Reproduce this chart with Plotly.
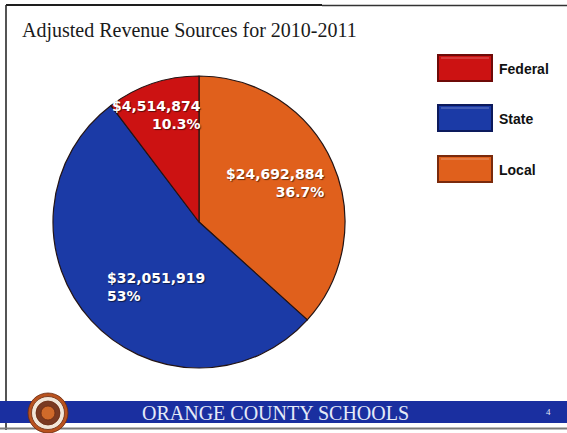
import plotly.graph_objects as go

# Revenue sources, 2010-2011
sources = ["Federal", "State", "Local"]
amounts = ["$4,514,874", "$32,051,919", "$24,692,884"]
shares = [10.3, 53.0, 36.7]          # percent of adjusted revenue
share_labels = ["10.3%", "53%", "36.7%"]
colors = ["#cc1212", "#1b3aa6", "#e0601c"]
edge_colors = ["#6e0a08", "#0c1a5c", "#7a2a0c"]

W, H = 567, 433


def px(x):
    return x / W


def py(y):
    return 1 - y / H


fig = go.Figure()

# Slices run clockwise from 12 o'clock: Local, State, Federal
fig.add_trace(go.Pie(
    labels=sources[::-1],
    values=shares[::-1],
    textinfo="none",
    sort=False,
    direction="clockwise",
    rotation=0,
    marker=dict(colors=colors[::-1], line=dict(color="#241414", width=1.2)),
    hoverinfo="label+value+percent",
    showlegend=False,
    domain=dict(x=[px(199 - 146), px(199 + 146)],
                y=[py(222 + 146), py(222 - 146)]),
))

shapes = []
annotations = []

# Slice labels: amount over share, anchored inside each slice
label_spots = [  # (x, y, anchor) in pixels
    (203, 115, "right"),
    (105, 287, "left"),
    (327, 183, "right"),
]
for amt, pct, (lx, ly, anc) in zip(amounts, share_labels, label_spots):
    annotations.append(dict(xref="paper", yref="paper", x=px(lx), y=py(ly),
                            xanchor=anc, yanchor="middle", align=anc,
                            showarrow=False, text=f"{amt}<br>{pct}",
                            font=dict(family="DejaVu Sans", size=14, color="white",
                                      weight="bold",
                                      shadow="1px 1px 1px rgba(0,0,0,0.55)")))

# Slide frame
shapes.append(dict(type="line", xref="paper", yref="paper",
                   x0=px(6), x1=px(322), y0=py(5), y1=py(5),
                   line=dict(color="#1e1e1e", width=2.2)))
shapes.append(dict(type="line", xref="paper", yref="paper",
                   x0=px(322), x1=px(567), y0=py(5.5), y1=py(5.5),
                   line=dict(color="#333333", width=1.6)))
shapes.append(dict(type="line", xref="paper", yref="paper",
                   x0=px(6), x1=px(6), y0=py(5), y1=py(430),
                   line=dict(color="#2a2a2a", width=1.6)))

# Legend keys drawn as bevelled boxes
key_tops = [55, 105, 156]
for name, col, edge, top in zip(sources, colors, edge_colors, key_tops):
    shapes.append(dict(type="rect", xref="paper", yref="paper",
                       x0=px(438), x1=px(492), y0=py(top), y1=py(top + 26),
                       fillcolor=col, line=dict(color=edge, width=2)))
    shapes.append(dict(type="line", xref="paper", yref="paper",
                       x0=px(441), x1=px(489), y0=py(top + 3), y1=py(top + 3),
                       line=dict(color="rgba(255,255,255,0.35)", width=1)))
    annotations.append(dict(xref="paper", yref="paper", x=px(497), y=py(top + 14),
                            xanchor="left", yanchor="middle", showarrow=False,
                            text=f"<b>{name}</b>",
                            font=dict(family="Liberation Sans", size=14, color="#111111")))

# Footer banner
shapes.append(dict(type="rect", xref="paper", yref="paper",
                   x0=0, x1=1, y0=py(423), y1=py(401),
                   fillcolor="#1a2fa0", line=dict(width=0)))
shapes.append(dict(type="line", xref="paper", yref="paper",
                   x0=0, x1=1, y0=py(428.5), y1=py(428.5),
                   line=dict(color="#7a7a7a", width=2)))

# School seal
seal_cx, seal_cy = 48, 413
for r, fill in [(20, "#b9521e"), (16.5, "#f2e6d8"), (12, "#7a3a22"), (7, "#d06a2a")]:
    shapes.append(dict(type="circle", xref="paper", yref="paper",
                       x0=px(seal_cx - r), x1=px(seal_cx + r),
                       y0=py(seal_cy + r), y1=py(seal_cy - r),
                       fillcolor=fill, line=dict(color="#6a2a10", width=0.8)))

annotations.append(dict(xref="paper", yref="paper", x=px(275), y=py(412.5),
                        xanchor="center", yanchor="middle", showarrow=False,
                        text="ORANGE COUNTY SCHOOLS",
                        font=dict(family="Liberation Serif", size=20, color="#e4eaf8")))
annotations.append(dict(xref="paper", yref="paper", x=px(548), y=py(412),
                        xanchor="center", yanchor="middle", showarrow=False,
                        text="4",
                        font=dict(family="Liberation Serif", size=9, color="#e4eaf8")))

fig.update_layout(
    width=W, height=H,
    margin=dict(l=0, r=0, t=0, b=0),
    paper_bgcolor="white",
    plot_bgcolor="white",
    title=dict(text="Adjusted Revenue Sources for 2010-2011",
               x=px(22), xanchor="left", y=py(30), yanchor="middle",
               font=dict(family="Liberation Serif", size=20, color="#1a1a1a")),
    shapes=shapes,
    annotations=annotations,
)

fig.write_html("out.html")
